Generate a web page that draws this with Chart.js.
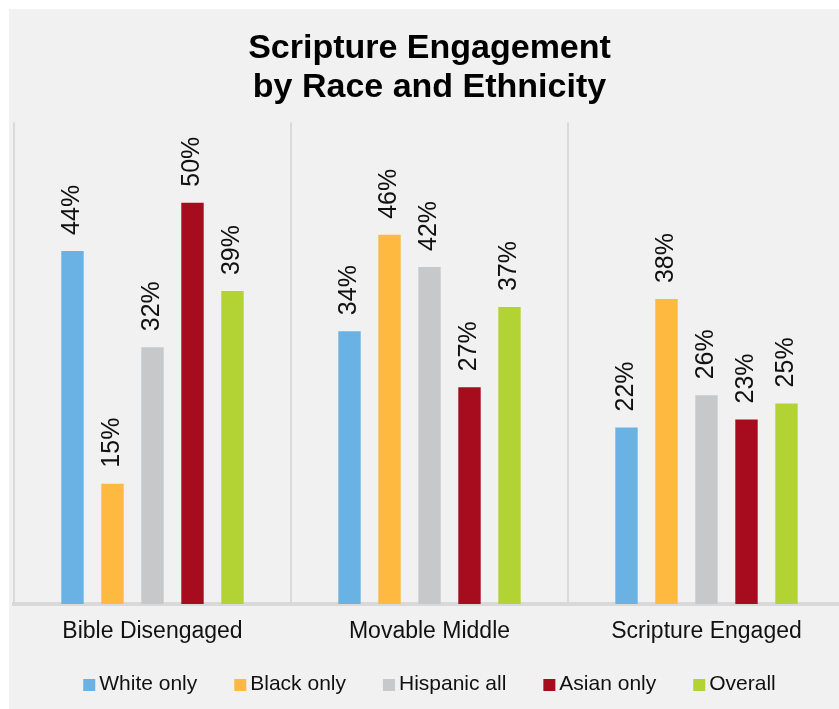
<!DOCTYPE html>
<html lang="en">
  <head>
    <meta charset="UTF-8" />
    <title>Scripture Engagement by Race and Ethnicity</title>
    <script src="https://cdn.jsdelivr.net/npm/chart.js"></script>
    <style>
      html,
      body {
        margin: 0;
        padding: 0;
        background-color: #ffffff;
        overflow: hidden;
        width: 839px;
        height: 709px;
      }

      .panel {
        position: absolute;
        left: 9px;
        top: 9px;
        right: 0;
        bottom: 0;
        background-color: #f1f1f1;
      }

      .chart-box {
        position: absolute;
        left: 9px;
        top: 9px;
        width: 850px;
        height: 700px;
      }
    </style>
  </head>
  <body>
    <div class="panel"></div>
    <div class="chart-box">
      <canvas id="engagementChart"></canvas>
    </div>

    <script>
      const categories = [
        "Bible Disengaged",
        "Movable Middle",
        "Scripture Engaged",
      ];
      const seriesNames = [
        "White only",
        "Black only",
        "Hispanic all",
        "Asian only",
        "Overall",
      ];

      // Percent of each group in each engagement segment
      const whiteOnly = [44, 34, 22];
      const blackOnly = [15, 46, 38];
      const hispanicAll = [32, 42, 26];
      const asianOnly = [50, 27, 23];
      const overall = [39, 37, 25];

      const colors = ["#69b2e3", "#fdb940", "#c7c8ca", "#a70b1e", "#b3d335"];
      const fontFamily = "'Liberation Sans', Arial, sans-serif";

      // Rotated percent labels above each bar
      const valueLabels = {
        id: "valueLabels",
        afterDatasetsDraw(chart) {
          const ctx = chart.ctx;
          ctx.save();
          ctx.font = "25px " + fontFamily;
          ctx.fillStyle = "#111111";
          ctx.textAlign = "left";
          ctx.textBaseline = "middle";
          chart.data.datasets.forEach((ds, i) => {
            chart.getDatasetMeta(i).data.forEach((bar, j) => {
              ctx.save();
              ctx.translate(bar.x, bar.y - 16);
              ctx.rotate(-Math.PI / 2);
              ctx.fillText(ds.data[j] + "%", 0, 0);
              ctx.restore();
            });
          });
          ctx.restore();
        },
      };

      // Single-row legend under the category labels
      const bottomLegend = {
        id: "bottomLegend",
        afterDraw(chart) {
          const ctx = chart.ctx;
          const box = 12;
          const gap = 4;
          const spacing = 37;
          const y = 675;
          ctx.save();
          ctx.font = "21px " + fontFamily;
          ctx.textBaseline = "middle";
          ctx.textAlign = "left";
          const items = chart.data.datasets.map((ds) => ({
            text: ds.label,
            color: ds.backgroundColor,
            width: box + gap + ctx.measureText(ds.label).width,
          }));
          const total =
            items.reduce((s, it) => s + it.width, 0) +
            spacing * (items.length - 1);
          const area = chart.chartArea;
          let x = (area.left + area.right) / 2 - total / 2;
          items.forEach((it) => {
            ctx.fillStyle = it.color;
            ctx.fillRect(x, y - box / 2 + 1, box, box);
            ctx.fillStyle = "#111111";
            ctx.fillText(it.text, x + box + gap, y);
            x += it.width + spacing;
          });
          ctx.restore();
        },
      };

      const seriesData = [whiteOnly, blackOnly, hispanicAll, asianOnly, overall];

      const ctx = document.getElementById("engagementChart").getContext("2d");

      const chart = new Chart(ctx, {
        type: "bar",
        data: {
          labels: categories,
          datasets: seriesNames.map((name, i) => ({
            label: name,
            data: seriesData[i],
            backgroundColor: colors[i],
            categoryPercentage: 0.722,
            barPercentage: 0.56,
          })),
        },
        options: {
          responsive: true,
          maintainAspectRatio: false,
          animation: false,
          layout: {
            padding: { left: 5, right: 14, top: 0, bottom: 0 },
          },
          plugins: {
            title: {
              display: true,
              text: ["Scripture Engagement", "by Race and Ethnicity"],
              color: "#000000",
              font: { family: fontFamily, size: 34, weight: "bold", lineHeight: 1.14 },
              padding: { top: 20, bottom: 16 },
            },
            legend: { display: false },
            tooltip: { enabled: false },
          },
          scales: {
            x: {
              z: 1,
              grid: {
                color: "#dadada",
                lineWidth: 2,
                drawTicks: false,
              },
              border: {
                color: "#d9d9d9",
                width: 4,
              },
              ticks: {
                color: "#111111",
                padding: 14,
                font: { family: fontFamily, size: 23 },
              },
              afterFit(scale) {
                scale.height = 105;
              },
            },
            y: {
              display: false,
              min: 0,
              max: 60,
            },
          },
        },
        plugins: [valueLabels, bottomLegend],
      });
    </script>
  </body>
</html>
